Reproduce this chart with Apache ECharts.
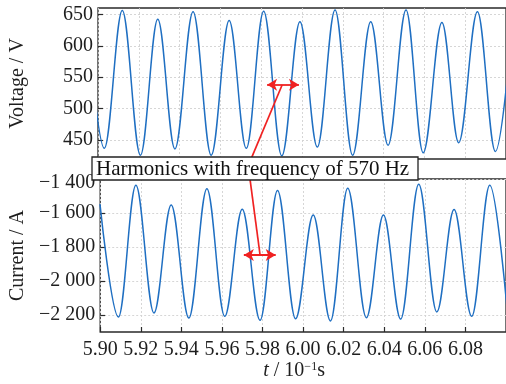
<!DOCTYPE html>
<html><head><meta charset="utf-8">
<script src="https://cdn.jsdelivr.net/npm/echarts@6/dist/echarts.min.js"></script>
<style>html,body{margin:0;padding:0;background:#fff}#c{width:506px;height:384px}</style>
</head><body><div id="c"></div>
<script>
// ---- data (t in 10^-1 s) ----
const tVoltage = [5.8943, 5.9031, 5.9119, 5.9208, 5.9293, 5.9377, 5.9466, 5.9555, 5.9643, 5.9727, 5.9812, 5.9901, 5.9990, 6.0075, 6.0162, 6.0248, 6.0337, 6.0422, 6.0510, 6.0594, 6.0686, 6.0768, 6.0860, 6.0948, 6.1036];
const voltage  = [650, 437, 656, 426, 642, 436, 654, 426, 640, 437, 655, 425, 638, 439, 657, 426, 638, 442, 657, 430, 637, 446, 654, 432, 650];
const tCurrent = [5.8999, 5.9090, 5.9176, 5.9265, 5.9350, 5.9437, 5.9526, 5.9614, 5.9700, 5.9788, 5.9874, 5.9963, 6.0050, 6.0135, 6.0220, 6.0312, 6.0396, 6.0481, 6.0570, 6.0659, 6.0744, 6.0831, 6.0920, 6.1008];
const current  = [-1548, -2212, -1437, -2188, -1553, -2218, -1457, -2208, -1578, -2231, -1467, -2222, -1612, -2235, -1455, -2216, -1612, -2224, -1431, -2182, -1580, -2208, -1437, -2200];

const xTickValues = [5.90, 5.92, 5.94, 5.96, 5.98, 6.00, 6.02, 6.04, 6.06, 6.08];
const xTickLabels = ['5.90', '5.92', '5.94', '5.96', '5.98', '6.00', '6.02', '6.04', '6.06', '6.08'];
const voltageTicks = [450, 500, 550, 600, 650];
const voltageTickLabels = ['450', '500', '550', '600', '650'];
const currentTicks = [-2200, -2000, -1800, -1600, -1400];
const currentTickLabels = ['\u22122 200', '\u22122 000', '\u22121 800', '\u22121 600', '\u22121 400'];

// annotation (data coordinates)
const arrowVoltage = [[5.9829, 538], [5.9985, 538]];
const connectorVoltage = [[5.9903, 538], [5.9731, 405]];
const arrowCurrent = [[5.9708, -1847], [5.9865, -1847]];
const connectorCurrent = [[5.9788, -1847], [5.9731, -1335]];
const annotationText = 'Harmonics with frequency of 570 Hz';

// ---- chart ----
const serif = '"Liberation Serif","Times New Roman",serif';
const BLUE = '#1f6fc2', RED = '#f02222', INK = '#1e1e1e';
const pairs = (xs, ys) => xs.map((x, i) => [x, ys[i]]);
const lookup = (vals, labels) => v => {
  const i = vals.findIndex(t => Math.abs(t - v) < 1e-6);
  return i < 0 ? '' : labels[i];
};
const currentFormatter = v => {
  const s = lookup(currentTicks, currentTickLabels)(v);
  return v === currentTicks[currentTicks.length - 1] ? '{top|' + s + '}' : s;
};
const splitLine = { show: true, lineStyle: { color: '#d2d2d2', type: [2, 2], width: 0.9 } };

const chart = echarts.init(document.getElementById('c'), null, { renderer: 'canvas' });
chart.setOption({
  animation: false,
  backgroundColor: '#fff',
  grid: [
    { left: 95, top: 8, width: 414, height: 151, show: true, borderColor: '#2a2a2a', borderWidth: 1.3, backgroundColor: 'transparent' },
    { left: 95, top: 179, width: 414, height: 153, show: true, borderColor: '#2a2a2a', borderWidth: 1.3, backgroundColor: 'transparent' }
  ],
  xAxis: [
    { type: 'value', gridIndex: 0, min: 5.90, max: 6.10,
      axisLine: { show: false }, axisTick: { show: false, customValues: xTickValues },
      axisLabel: { show: false, customValues: xTickValues }, splitLine },
    { type: 'value', gridIndex: 1, min: 5.90, max: 6.10,
      axisLine: { show: false },
      axisTick: { show: true, inside: true, length: 5, customValues: xTickValues, lineStyle: { color: '#2a2a2a', width: 1.2 } },
      axisLabel: { customValues: xTickValues, formatter: lookup(xTickValues, xTickLabels), fontSize: 20, fontFamily: serif, color: INK, margin: 8 },
      splitLine,
      name: '{t|t} / 10{sup|\u22121}s', nameLocation: 'middle', nameGap: 25,
      nameTextStyle: { fontSize: 20, fontFamily: serif, color: INK, padding: [0, 18, 0, 0],
        rich: { t: { fontStyle: 'italic', fontSize: 20, fontFamily: serif, color: INK },
                sup: { fontSize: 12, fontFamily: serif, color: INK, verticalAlign: 'top' } } } }
  ],
  yAxis: [
    { type: 'value', gridIndex: 0, min: 420, max: 660,
      axisLine: { show: false },
      axisTick: { show: true, inside: true, length: 5, customValues: voltageTicks, lineStyle: { color: '#2a2a2a', width: 1.2 } },
      axisLabel: { customValues: voltageTicks, formatter: lookup(voltageTicks, voltageTickLabels), fontSize: 20, fontFamily: serif, color: INK, margin: 5 },
      splitLine,
      name: 'Voltage / V', nameLocation: 'middle', nameGap: 70,
      nameTextStyle: { fontSize: 20, fontFamily: serif, color: INK } },
    { type: 'value', gridIndex: 1, min: -2300, max: -1400,
      axisLine: { show: false },
      axisTick: { show: true, inside: true, length: 5, customValues: currentTicks, lineStyle: { color: '#2a2a2a', width: 1.2 } },
      axisLabel: { customValues: currentTicks, formatter: currentFormatter, fontSize: 20, fontFamily: serif, color: INK, margin: 5,
        rich: { top: { fontSize: 20, fontFamily: serif, color: INK, padding: [8, 0, 0, 0] } } },
      splitLine,
      name: 'Current / A', nameLocation: 'middle', nameGap: 67,
      nameTextStyle: { fontSize: 20, fontFamily: serif, color: INK } }
  ],
  series: [
    { type: 'line', xAxisIndex: 0, yAxisIndex: 0, data: pairs(tVoltage, voltage),
      smooth: 0.36, smoothMonotone: 'x', showSymbol: false, silent: true, z: 3,
      lineStyle: { color: BLUE, width: 1.5 },
      markLine: { silent: true, symbol: ['arrow', 'arrow'], symbolSize: [9, 10], label: { show: false },
        emphasis: { disabled: true }, lineStyle: { color: RED, width: 1.8, type: 'solid' },
        data: [[{ coord: arrowVoltage[0] }, { coord: arrowVoltage[1] }]] } },
    { type: 'line', xAxisIndex: 0, yAxisIndex: 0, data: connectorVoltage, clip: false,
      showSymbol: false, silent: true, z: 4, lineStyle: { color: RED, width: 1.7 } },
    { type: 'line', xAxisIndex: 1, yAxisIndex: 1, data: pairs(tCurrent, current),
      smooth: 0.36, smoothMonotone: 'x', showSymbol: false, silent: true, z: 3,
      lineStyle: { color: BLUE, width: 1.5 },
      markLine: { silent: true, symbol: ['arrow', 'arrow'], symbolSize: [9, 10], label: { show: false },
        emphasis: { disabled: true }, lineStyle: { color: RED, width: 1.8, type: 'solid' },
        data: [[{ coord: arrowCurrent[0] }, { coord: arrowCurrent[1] }]] } },
    { type: 'line', xAxisIndex: 1, yAxisIndex: 1, data: connectorCurrent, clip: false,
      showSymbol: false, silent: true, z: 4, lineStyle: { color: RED, width: 1.7 } }
  ],
  graphic: [
    { type: 'rect', z: 100, shape: { x: 92, y: 157, width: 326, height: 23 },
      style: { fill: '#fff', stroke: '#222', lineWidth: 1.3 } },
    { type: 'text', z: 101, x: 96, y: 169.5,
      style: { text: annotationText, font: '21px "Liberation Serif"', fill: '#111', verticalAlign: 'middle', align: 'left' } }
  ]
});
</script>
</body></html>
